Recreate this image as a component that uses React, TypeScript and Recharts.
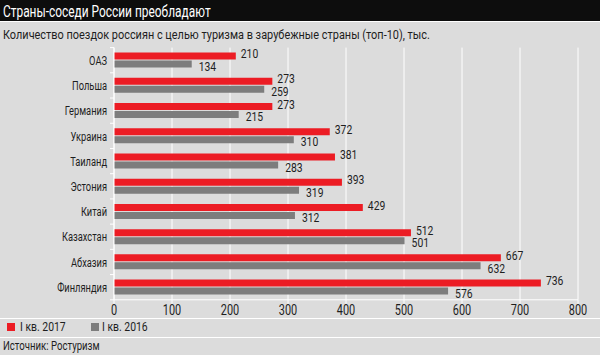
import React from 'react';
import { BarChart, Bar, XAxis, YAxis, CartesianGrid, LabelList } from 'recharts';

const countries = ['ОАЗ', 'Польша', 'Германия', 'Украина', 'Таиланд', 'Эстония', 'Китай', 'Казахстан', 'Абхазия', 'Финляндия'];
const q1_2017 = [210, 273, 273, 372, 381, 393, 429, 512, 667, 736];
const q1_2016 = [134, 259, 215, 310, 283, 319, 312, 501, 632, 576];
const xTicks = [0, 100, 200, 300, 400, 500, 600, 700, 800];
const seriesNames = ['I кв. 2017', 'I кв. 2016'];
const seriesColors = ['#ec1c24', '#7d7d7d'];

const title = 'Страны-соседи России преобладают';
const subtitle = 'Количество поездок россиян с целью туризма в зарубежные страны (топ-10), тыс.';
const source = 'Источник: Ростуризм';

const data = countries.map((c, i) => ({ name: c, a: q1_2017[i], b: q1_2016[i] }));

const FONT = "Roboto, 'Noto Sans', sans-serif";
const BG = '#dcdcdc';
const TXT = '#1e1e1e';
const HALF_STEP = 12.6;

const Narrow = ({ x, y, anchor, size, sx, children }: any) => (
  <text
    transform={`translate(${x},${y}) scale(${sx},1)`}
    x={0}
    y={0}
    dy="0.35em"
    textAnchor={anchor}
    fontSize={size}
    fill={TXT}
    fontFamily={FONT}
  >
    {children}
  </text>
);

const YTick = (props: any) => {
  const { x, y, payload, index } = props;
  return (
    <g>
      <line x1={x - 4} x2={x} y1={y + HALF_STEP} y2={y + HALF_STEP} stroke="#fff" strokeWidth={1} />
      {index === 0 && <line x1={x - 4} x2={x} y1={y - HALF_STEP} y2={y - HALF_STEP} stroke="#fff" strokeWidth={1} />}
      <Narrow x={x - 7} y={y} anchor="end" size={13.5} sx={0.69}>{payload.value}</Narrow>
    </g>
  );
};

const XTick = (props: any) => {
  const { x, y, payload } = props;
  return <Narrow x={x} y={y + 6.5} anchor="middle" size={14} sx={0.78}>{payload.value}</Narrow>;
};

const makeLabel = (dy: number, dx: number) => (props: any) => {
  const { x, y, width, height, value } = props;
  return <Narrow x={x + width + dx} y={y + height / 2 + dy} anchor="start" size={12.5} sx={0.83}>{value}</Narrow>;
};

const HText = ({ left, top, size, color, sx, children }: any) => (
  <div
    style={{
      position: 'absolute',
      left,
      top,
      fontSize: size,
      lineHeight: `${size + 3}px`,
      color,
      whiteSpace: 'nowrap',
      transform: `scaleX(${sx})`,
      transformOrigin: 'left center',
    }}
  >
    {children}
  </div>
);

export default function App() {
  return (
    <div style={{ position: 'absolute', left: 0, top: 0, width: 600, height: 355, background: BG, fontFamily: FONT, overflow: 'hidden' }}>
      <div style={{ position: 'absolute', left: 0, top: 0, width: 600, height: 21, background: '#0d0d0d' }} />
      <div style={{ position: 'absolute', left: 0, top: 21, width: 600, height: 1, background: '#fff' }} />
      <HText left={3} top={0.5} size={17} color="#fff" sx={0.7}>{title}</HText>
      <HText left={3} top={27} size={13} color={TXT} sx={0.84}>{subtitle}</HText>
      <div style={{ position: 'absolute', left: 0, top: 0 }}>
        <BarChart
          width={600}
          height={355}
          data={data}
          layout="vertical"
          margin={{ top: 47.6, right: 22, bottom: 25.2, left: 0 }}
          barSize={7}
          barGap={1}
          barCategoryGap={0}
        >
          <CartesianGrid horizontal={false} vertical={true} stroke="#ffffff" strokeWidth={1} />
          <XAxis
            type="number"
            domain={[0, 800]}
            ticks={xTicks}
            interval={0}
            height={30}
            axisLine={{ stroke: '#fff' }}
            tickLine={{ stroke: '#fff' }}
            tickSize={4}
            tickMargin={0}
            tick={<XTick />}
          />
          <YAxis
            type="category"
            dataKey="name"
            width={114}
            axisLine={{ stroke: '#fff' }}
            tickLine={false}
            tickSize={0}
            tickMargin={0}
            interval={0}
            tick={<YTick />}
          />
          <Bar dataKey="a" fill={seriesColors[0]} isAnimationActive={false}>
            <LabelList dataKey="a" content={makeLabel(-2.3, 5)} />
          </Bar>
          <Bar dataKey="b" fill={seriesColors[1]} isAnimationActive={false}>
            <LabelList dataKey="b" content={makeLabel(2.3, 7)} />
          </Bar>
        </BarChart>
      </div>
      <div style={{ position: 'absolute', left: 0, top: 318, width: 600, height: 1, background: '#fff' }} />
      <div style={{ position: 'absolute', left: 0, top: 337, width: 600, height: 1, background: '#fff' }} />
      {seriesNames.map((n, i) => (
        <React.Fragment key={n}>
          <div style={{ position: 'absolute', left: 7 + i * 84, top: 323, width: 8, height: 8, background: seriesColors[i] }} />
          <HText left={20 + i * 82} top={319} size={13} color={TXT} sx={0.8}>{n}</HText>
        </React.Fragment>
      ))}
      <HText left={3} top={338.5} size={12} color={TXT} sx={0.8}>{source}</HText>
    </div>
  );
}
